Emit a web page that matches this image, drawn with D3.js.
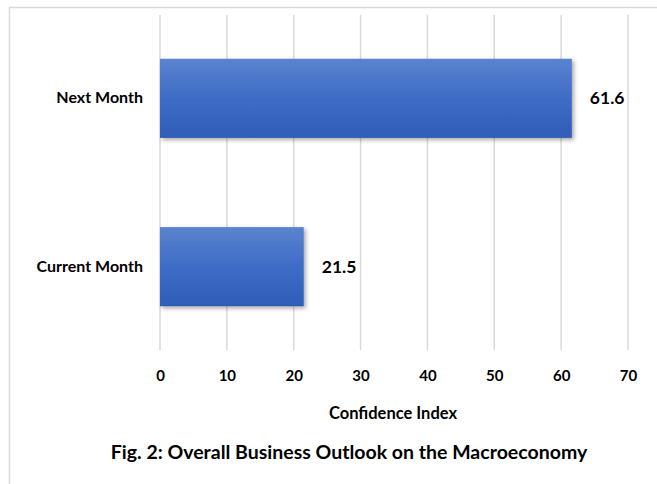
<!DOCTYPE html>
<html>
<head>
<meta charset="utf-8">
<script src="https://cdn.jsdelivr.net/npm/d3@7"></script>
<style>
  body { margin: 0; background: #fff; }
  text { font-family: Lato, "Open Sans", sans-serif; font-weight: bold; fill: #000; }
</style>
</head>
<body>
<div id="chart"></div>
<script>
// chart values
var categories = ["Next Month", "Current Month"];
var values = [61.6, 21.5];
var xTicks = [0, 10, 20, 30, 40, 50, 60, 70];

var W = 657, H = 484;
var margin = { left: 160, right: 29, top: 15, bottom: 134 };

var svg = d3.select("#chart").append("svg")
    .attr("width", W)
    .attr("height", H);

// frame
svg.append("rect")
    .attr("x", 9.5).attr("y", 7.5)
    .attr("width", W + 10).attr("height", H + 10)
    .attr("fill", "none")
    .attr("stroke", "#d9d9d9")
    .attr("stroke-width", 1.5);

var defs = svg.append("defs");
var grad = defs.append("linearGradient")
    .attr("id", "barGrad")
    .attr("x1", 0).attr("y1", 0).attr("x2", 0).attr("y2", 1);
grad.append("stop").attr("offset", "0%").attr("stop-color", "#5b83cf");
grad.append("stop").attr("offset", "50%").attr("stop-color", "#3e6cc6");
grad.append("stop").attr("offset", "100%").attr("stop-color", "#2f5db6");

var shadow = defs.append("filter").attr("id", "shadow")
    .attr("x", "-10%").attr("y", "-10%").attr("width", "130%").attr("height", "130%");
shadow.append("feDropShadow")
    .attr("dx", 2).attr("dy", 2).attr("stdDeviation", 2)
    .attr("flood-color", "#000").attr("flood-opacity", 0.35);

var g = svg.append("g")
    .attr("transform", "translate(" + margin.left + "," + margin.top + ")");

var width = W - margin.left - margin.right,
    height = H - margin.top - margin.bottom;

var x = d3.scaleLinear()
    .domain([0, 70])
    .range([0, width]);

var y = d3.scaleBand()
    .domain(categories)
    .range([0, height])
    .paddingInner(0.53)
    .paddingOuter(0.26);

// grid
g.selectAll(".grid")
    .data(xTicks)
    .enter().append("line")
    .attr("class", "grid")
    .attr("x1", d => x(d)).attr("x2", d => x(d))
    .attr("y1", 0).attr("y2", height)
    .attr("stroke", "#d9d9d9")
    .attr("stroke-width", 1.5);

// x axis
var xAxis = d3.axisBottom(x)
    .tickValues(xTicks)
    .tickSize(0)
    .tickPadding(20);

g.append("g")
    .attr("class", "x axis")
    .attr("transform", "translate(0," + height + ")")
    .call(xAxis)
    .call(a => a.select(".domain").remove())
    .selectAll("text")
        .style("font-size", "15px")
        .style("font-family", "Lato, sans-serif")
        .style("font-weight", "bold");

// y axis labels
var yAxis = d3.axisLeft(y).tickSize(0).tickPadding(17);
g.append("g")
    .attr("class", "y axis")
    .call(yAxis)
    .call(a => a.select(".domain").remove())
    .selectAll("text")
        .style("font-size", "16px")
        .style("font-family", "Lato, sans-serif")
        .style("font-weight", "bold");

// bars
var data = categories.map((c, i) => ({ cat: c, val: values[i] }));

g.selectAll(".bar")
    .data(data)
    .enter().append("rect")
    .attr("class", "bar")
    .attr("x", 0)
    .attr("y", d => y(d.cat))
    .attr("width", d => x(d.val))
    .attr("height", y.bandwidth())
    .attr("fill", "url(#barGrad)")
    .attr("filter", "url(#shadow)");

// value labels
g.selectAll(".val")
    .data(data)
    .enter().append("text")
    .attr("class", "val")
    .attr("x", d => x(d.val) + 18)
    .attr("y", d => y(d.cat) + y.bandwidth() / 2)
    .attr("dy", "0.35em")
    .style("font-size", "17.5px")
    .text(d => d.val.toFixed(1));

// axis title
g.append("text")
    .attr("x", width / 2 - 1)
    .attr("y", height + 69)
    .attr("text-anchor", "middle")
    .style("font-size", "16.5px")
    .text("Confidence Index");

// figure caption
svg.append("text")
    .attr("x", 349)
    .attr("y", 459)
    .attr("text-anchor", "middle")
    .style("font-size", "19.5px")
    .text("Fig. 2: Overall Business Outlook on the Macroeconomy");
</script>
</body>
</html>
